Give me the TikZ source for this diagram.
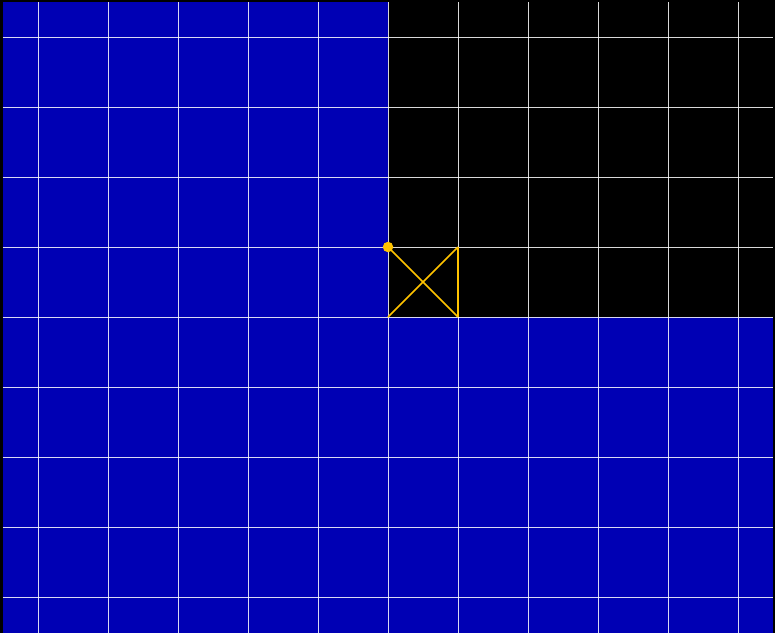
\documentclass[tikz,border=0pt]{standalone}
\definecolor{bgblue}{RGB}{0,0,180}
\definecolor{markyellow}{RGB}{255,195,0}
\tikzset{
  gridline/.style={white, opacity=0.85, line width=1pt},
  markline/.style={markyellow, line width=1.6pt},
  markdot/.style={circle, fill=markyellow, inner sep=0pt, minimum size=10.5pt},
}
\begin{document}
\begin{tikzpicture}[x=1pt,y=-1pt]
\useasboundingbox (0,0) rectangle (775,633);
\fill[black] (0,0) rectangle (775,633);
\fill[bgblue] (3,2) rectangle (388,317);
\fill[bgblue] (3,317) rectangle (773,633);
\foreach \i in {0,...,10} {
  \draw[gridline] (38+70*\i,2) -- (38+70*\i,633);
}
\foreach \j in {0,...,8} {
  \draw[gridline] (3,37+70*\j) -- (773,37+70*\j);
}
\coordinate (tl) at (388,247);
\coordinate (tr) at (458,247);
\coordinate (bl) at (388,317);
\coordinate (br) at (458,317);
\draw[markline] (tl) -- (br);
\draw[markline] (bl) -- (tr);
\draw[markline] (tr) -- (br);
\node[markdot] (dot) at (tl) {};
\end{tikzpicture}
\end{document}
